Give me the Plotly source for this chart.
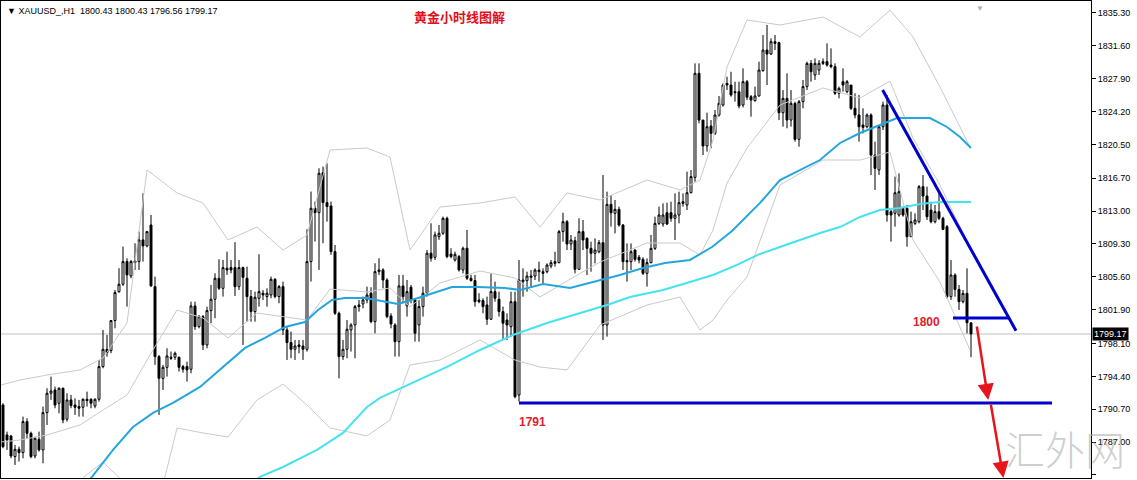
import plotly.graph_objects as go

# ---------------- data ----------------
bar_open = [
    1791.18, 1787.81, 1787.69, 1785.37, 1786.19, 1785.82, 1789.31, 1787.99, 1785.44, 1787.32,
    1786.12, 1790.32, 1792.50, 1792.87, 1791.37, 1793.06, 1789.57, 1791.75, 1791.18, 1791.00,
    1790.92, 1791.82, 1791.82, 1791.07, 1791.82, 1795.50, 1797.45, 1797.30, 1800.68, 1803.94,
    1804.77, 1807.32, 1805.70, 1807.39, 1807.32, 1809.76, 1809.08, 1811.44, 1804.50, 1796.62,
    1794.18, 1795.42, 1796.55, 1796.55, 1796.55, 1795.50, 1795.50, 1795.20, 1802.33, 1800.00,
    1801.13, 1797.94, 1801.80, 1803.08, 1805.44, 1804.31, 1806.57, 1806.64, 1806.64, 1804.50,
    1806.64, 1805.44, 1803.38, 1801.69, 1803.19, 1803.76, 1803.38, 1803.56, 1805.33, 1803.38,
    1804.50, 1799.63, 1798.20, 1797.45, 1797.94, 1797.82, 1797.45, 1807.32, 1813.32, 1812.83,
    1817.33, 1813.96, 1813.58, 1808.44, 1801.50, 1796.62, 1797.45, 1799.63, 1800.19, 1802.25,
    1802.55, 1803.00, 1803.76, 1800.56, 1806.19, 1806.38, 1805.25, 1801.20, 1800.19, 1798.31,
    1804.58, 1802.33, 1804.43, 1803.00, 1800.19, 1802.25, 1803.76, 1808.26, 1807.80, 1810.13,
    1810.51, 1812.19, 1808.18, 1807.50, 1807.88, 1806.38, 1808.82, 1805.44, 1805.18, 1803.00,
    1802.93, 1802.44, 1800.83, 1803.94, 1803.08, 1801.69, 1800.74, 1799.99, 1802.81, 1792.30,
    1805.06, 1805.17, 1805.54, 1805.69, 1806.37, 1806.18, 1806.18, 1806.82, 1807.31, 1807.20,
    1810.69, 1811.81, 1809.30, 1809.67, 1806.45, 1810.69, 1809.93, 1808.81, 1808.25, 1808.43,
    1809.45, 1800.18, 1813.76, 1812.75, 1813.20, 1811.43, 1807.42, 1807.31, 1808.62, 1807.80,
    1807.57, 1806.00, 1807.20, 1808.81, 1811.62, 1811.55, 1812.82, 1812.82, 1812.19, 1812.56,
    1813.87, 1813.69, 1815.07, 1816.80, 1828.51, 1823.25, 1820.33, 1822.58, 1821.75, 1823.82,
    1824.94, 1827.38, 1827.19, 1826.44, 1826.44, 1824.94, 1827.57, 1825.88, 1825.43, 1825.96,
    1828.81, 1831.13, 1830.68, 1832.07, 1831.96, 1824.08, 1825.69, 1823.25, 1825.13, 1821.08,
    1825.32, 1827.01, 1829.63, 1828.32, 1828.88, 1829.82, 1829.82, 1829.44, 1829.26, 1826.26,
    1827.57, 1826.44, 1827.19, 1824.57, 1823.82, 1822.69, 1822.50, 1823.82, 1819.31, 1817.63,
    1822.50, 1824.94, 1812.94, 1812.75, 1812.56, 1813.31, 1813.31, 1810.12, 1811.62, 1811.81,
    1815.75, 1814.70, 1813.12, 1811.81, 1812.94, 1812.19, 1811.25, 1803.37, 1805.81, 1804.19,
    1802.81, 1803.74, 1800.43,
]
bar_high = [
    1791.37, 1788.18, 1787.81, 1786.68, 1786.49, 1789.87, 1789.68, 1788.18, 1787.60, 1788.18,
    1791.00, 1793.06, 1794.37, 1793.25, 1793.17, 1793.13, 1792.50, 1792.31, 1791.93, 1791.75,
    1791.93, 1792.68, 1791.93, 1791.93, 1796.25, 1799.63, 1799.06, 1800.75, 1804.12, 1806.57,
    1809.00, 1807.69, 1807.50, 1809.38, 1810.69, 1815.01, 1810.77, 1812.57, 1805.63, 1796.81,
    1795.69, 1797.56, 1797.19, 1797.19, 1796.62, 1795.69, 1796.06, 1802.81, 1802.81, 1801.31,
    1801.31, 1802.25, 1804.69, 1806.00, 1807.58, 1807.50, 1808.44, 1807.50, 1809.50, 1807.50,
    1806.75, 1806.75, 1804.12, 1803.94, 1808.14, 1804.12, 1804.31, 1805.63, 1805.44, 1804.69,
    1805.07, 1800.00, 1799.44, 1798.50, 1798.50, 1798.50, 1810.96, 1815.20, 1814.07, 1817.82,
    1818.01, 1818.38, 1814.07, 1809.19, 1801.69, 1798.50, 1800.75, 1800.38, 1802.44, 1803.00,
    1803.38, 1804.50, 1804.43, 1807.13, 1807.69, 1806.57, 1805.44, 1801.50, 1800.38, 1805.82,
    1805.82, 1805.25, 1804.69, 1803.19, 1803.00, 1804.50, 1808.63, 1811.63, 1810.69, 1811.44,
    1812.38, 1812.38, 1808.82, 1808.44, 1808.07, 1809.00, 1810.88, 1805.82, 1805.82, 1803.76,
    1803.19, 1803.38, 1806.00, 1805.07, 1803.94, 1802.25, 1801.49, 1803.93, 1803.93, 1807.50,
    1806.56, 1806.18, 1806.37, 1806.56, 1807.31, 1806.56, 1807.12, 1807.50, 1808.43, 1810.87,
    1812.82, 1812.00, 1810.31, 1810.12, 1812.19, 1812.00, 1810.05, 1809.56, 1809.93, 1809.75,
    1817.06, 1815.19, 1814.81, 1814.25, 1813.50, 1811.55, 1809.37, 1809.37, 1808.70, 1808.06,
    1807.80, 1807.68, 1810.31, 1812.37, 1813.50, 1813.87, 1813.95, 1814.06, 1815.00, 1815.19,
    1815.00, 1817.44, 1817.63, 1829.63, 1829.63, 1823.25, 1824.08, 1823.25, 1824.38, 1825.96,
    1827.38, 1828.13, 1828.69, 1827.57, 1827.57, 1829.07, 1827.76, 1826.07, 1827.01, 1829.82,
    1832.82, 1833.95, 1832.45, 1832.82, 1832.07, 1826.63, 1828.51, 1826.63, 1825.32, 1825.51,
    1827.76, 1829.82, 1830.01, 1830.19, 1830.01, 1830.19, 1831.88, 1831.32, 1829.63, 1827.01,
    1829.07, 1827.76, 1827.19, 1826.26, 1826.07, 1824.57, 1824.00, 1824.00, 1820.82, 1822.69,
    1825.32, 1826.07, 1813.12, 1816.88, 1817.25, 1813.50, 1813.69, 1812.94, 1812.75, 1815.94,
    1817.06, 1815.75, 1814.06, 1813.69, 1815.00, 1812.37, 1811.43, 1807.50, 1806.00, 1804.68,
    1804.12, 1806.56, 1800.43,
]
bar_low = [
    1786.31, 1786.12, 1785.18, 1784.43, 1784.81, 1785.18, 1787.43, 1785.18, 1785.18, 1785.93,
    1784.62, 1788.93, 1791.75, 1790.81, 1790.24, 1789.12, 1789.31, 1790.81, 1790.06, 1789.87,
    1789.87, 1791.00, 1790.81, 1790.81, 1791.56, 1795.31, 1796.62, 1797.00, 1799.81, 1803.80,
    1804.58, 1802.25, 1805.44, 1806.38, 1806.38, 1807.32, 1808.93, 1804.50, 1795.69, 1790.06,
    1792.87, 1794.37, 1796.25, 1796.25, 1794.94, 1794.82, 1793.81, 1794.75, 1799.63, 1799.81,
    1797.37, 1797.56, 1800.38, 1800.94, 1804.12, 1803.38, 1805.82, 1806.00, 1803.45, 1804.12,
    1797.94, 1800.56, 1800.56, 1800.56, 1802.25, 1803.00, 1802.25, 1803.19, 1803.19, 1802.63,
    1799.06, 1796.25, 1796.44, 1796.25, 1797.00, 1796.25, 1797.19, 1805.07, 1809.57, 1806.38,
    1809.38, 1811.82, 1808.07, 1801.31, 1794.18, 1796.25, 1796.44, 1797.19, 1796.44, 1801.69,
    1802.06, 1802.63, 1800.38, 1799.25, 1805.82, 1804.31, 1800.94, 1799.81, 1796.62, 1796.62,
    1802.63, 1801.13, 1802.63, 1798.31, 1798.31, 1801.13, 1803.38, 1807.32, 1807.50, 1809.76,
    1810.32, 1807.69, 1807.69, 1807.32, 1806.19, 1806.00, 1805.25, 1805.07, 1802.25, 1802.63,
    1801.50, 1800.19, 1800.75, 1802.81, 1801.13, 1798.50, 1798.49, 1798.87, 1791.93, 1791.55,
    1803.37, 1803.93, 1804.50, 1805.24, 1805.06, 1804.87, 1806.00, 1806.56, 1806.75, 1807.12,
    1809.56, 1808.62, 1808.62, 1806.00, 1806.37, 1808.62, 1805.81, 1806.18, 1807.12, 1808.25,
    1798.49, 1798.87, 1811.25, 1810.50, 1811.25, 1806.37, 1805.06, 1806.37, 1807.31, 1807.12,
    1805.81, 1804.50, 1807.12, 1808.62, 1811.43, 1811.25, 1811.43, 1811.81, 1809.75, 1811.62,
    1813.50, 1813.12, 1815.00, 1816.31, 1822.88, 1819.31, 1819.69, 1820.07, 1821.57, 1823.63,
    1824.76, 1826.63, 1825.88, 1825.32, 1824.57, 1824.68, 1825.51, 1823.63, 1825.32, 1825.88,
    1828.69, 1827.19, 1830.57, 1831.13, 1823.25, 1822.50, 1822.32, 1822.50, 1820.82, 1820.25,
    1824.57, 1826.63, 1827.57, 1827.76, 1828.32, 1829.44, 1829.26, 1829.07, 1826.07, 1825.69,
    1826.44, 1826.26, 1824.38, 1823.44, 1820.82, 1821.75, 1822.32, 1817.06, 1815.38, 1817.06,
    1822.13, 1811.81, 1809.56, 1811.25, 1812.37, 1812.37, 1808.99, 1810.12, 1811.43, 1811.62,
    1813.12, 1812.00, 1811.62, 1811.62, 1812.00, 1810.87, 1803.18, 1803.00, 1803.37, 1801.87,
    1802.62, 1799.24, 1796.56,
]
bar_close = [
    1786.49, 1787.24, 1785.44, 1786.19, 1785.82, 1789.31, 1787.99, 1785.37, 1787.43, 1786.12,
    1790.32, 1792.50, 1792.76, 1791.18, 1793.06, 1789.50, 1791.75, 1791.11, 1790.92, 1790.81,
    1791.82, 1791.67, 1791.37, 1791.82, 1795.50, 1797.45, 1797.07, 1800.68, 1803.83, 1804.77,
    1807.32, 1805.82, 1807.32, 1807.20, 1809.76, 1809.08, 1810.69, 1804.58, 1796.62, 1794.18,
    1795.42, 1796.70, 1796.44, 1797.00, 1795.42, 1795.20, 1795.12, 1802.33, 1800.00, 1801.13,
    1797.94, 1801.80, 1803.08, 1805.44, 1804.31, 1806.64, 1806.38, 1806.38, 1804.50, 1806.64,
    1805.55, 1803.38, 1801.69, 1803.30, 1803.94, 1803.56, 1803.76, 1805.33, 1803.38, 1804.50,
    1799.63, 1798.20, 1797.45, 1797.82, 1797.75, 1797.45, 1807.32, 1813.32, 1812.83, 1817.26,
    1813.96, 1813.51, 1808.44, 1801.50, 1796.62, 1797.45, 1799.70, 1800.19, 1802.25, 1802.44,
    1803.00, 1803.56, 1800.56, 1806.19, 1806.38, 1805.25, 1801.13, 1800.30, 1798.31, 1804.58,
    1803.38, 1803.94, 1803.00, 1799.25, 1802.25, 1803.76, 1808.26, 1807.69, 1810.32, 1810.51,
    1812.19, 1807.88, 1807.88, 1808.14, 1806.38, 1808.82, 1805.44, 1805.18, 1802.81, 1802.81,
    1802.25, 1800.83, 1803.94, 1803.19, 1801.69, 1800.38, 1800.18, 1802.81, 1792.11, 1805.24,
    1805.24, 1805.69, 1805.69, 1806.37, 1806.18, 1806.00, 1806.93, 1807.20, 1807.12, 1810.69,
    1811.81, 1809.30, 1809.75, 1806.45, 1810.69, 1809.75, 1808.81, 1808.25, 1808.62, 1809.45,
    1800.18, 1813.76, 1812.82, 1813.20, 1811.43, 1807.31, 1807.31, 1808.43, 1807.57, 1807.50,
    1806.00, 1807.20, 1808.81, 1811.62, 1812.56, 1812.56, 1811.55, 1812.19, 1812.56, 1813.95,
    1814.06, 1815.07, 1816.88, 1828.51, 1823.25, 1820.33, 1822.50, 1821.75, 1823.82, 1825.13,
    1827.19, 1827.19, 1826.07, 1826.33, 1824.83, 1827.57, 1825.81, 1825.51, 1825.96, 1828.88,
    1831.13, 1830.68, 1832.07, 1831.88, 1824.08, 1825.69, 1823.25, 1825.13, 1821.08, 1825.32,
    1827.01, 1829.63, 1828.69, 1829.63, 1829.63, 1829.63, 1829.44, 1829.26, 1826.26, 1826.82,
    1827.19, 1827.57, 1824.57, 1823.82, 1822.50, 1822.43, 1823.82, 1819.31, 1817.81, 1822.50,
    1824.94, 1812.56, 1812.56, 1815.07, 1815.19, 1812.56, 1810.12, 1811.81, 1812.00, 1815.75,
    1814.70, 1812.37, 1811.81, 1812.94, 1812.19, 1810.95, 1803.37, 1805.81, 1804.19, 1802.81,
    1803.74, 1800.44, 1799.17,
]

# moving averages (bar index, price)
ma_blue_x = [20, 22.25, 27.5, 32.5, 37.5, 42.5, 49.25, 54.25, 60.5, 65.5, 70.5, 75.5, 78.75, 82.25,
             85.5, 90.5, 95.5, 98.75, 103.75, 108.75, 112.25, 118.75, 125.5, 129.25, 135, 141.75,
             149.25, 154.25, 160, 165.5, 171.75, 177.25, 182.25, 189.25, 194.25, 199.25, 204.25,
             209.25, 214.25, 219.25, 223.5, 231.75, 236, 239.25, 242]
ma_blue_y = [1782.00, 1783.08, 1786.12, 1788.70, 1790.28, 1791.41, 1793.21, 1795.12, 1797.60, 1798.72,
             1799.96, 1800.52, 1801.87, 1803.00, 1803.22, 1803.22, 1802.77, 1802.55, 1803.22, 1803.90,
             1804.46, 1804.46, 1804.35, 1804.12, 1804.80, 1804.35, 1805.25, 1805.81, 1806.60, 1807.16,
             1807.50, 1808.96, 1810.76, 1813.92, 1816.50, 1817.63, 1818.75, 1820.67, 1821.79, 1822.69,
             1823.48, 1823.48, 1822.47, 1821.34, 1820.11]
ma_cyan_x = [62, 64.25, 70, 78.5, 85, 91, 94.25, 102.5, 111, 119.25, 127.5, 136, 144.25, 151, 156.75,
             165, 171.75, 177.5, 183.5, 189.25, 194.25, 199.25, 204.25, 209.25, 214.25, 219.25,
             224.25, 229.25, 234.25, 242]
ma_cyan_y = [1782.30, 1783.08, 1784.20, 1786.12, 1788.03, 1790.95, 1791.97, 1793.66, 1795.46, 1797.37,
             1799.06, 1800.41, 1801.54, 1802.44, 1803.34, 1804.12, 1805.02, 1805.81, 1806.94, 1808.18,
             1808.96, 1809.75, 1810.54, 1811.21, 1812.34, 1813.13, 1813.35, 1813.80, 1814.03, 1814.03]

# Bollinger bands (bar index, price)
bb_x = [-0.5, 4.25, 11, 19.25, 25, 31, 36, 43.5, 50, 56.25, 63.5, 70, 76, 81.75, 91, 96.75, 101.75,
        109.25, 119.25, 128, 134.25, 141, 149.25, 161, 169.25, 174.25, 177.5, 181, 186, 194.25, 205,
        214.25, 221.75, 227.5, 234.25, 239.25, 241.75]
bb_upper = [1793.43, 1793.99, 1794.55, 1795.12, 1796.47, 1800.41, 1817.63, 1815.04, 1813.91, 1809.75,
            1811.21, 1808.62, 1810.31, 1819.88, 1820.10, 1819.09, 1808.62, 1813.46, 1813.91, 1814.59,
            1811.21, 1815.04, 1814.25, 1816.50, 1815.38, 1816.50, 1821.00, 1829.22, 1834.51, 1833.95,
            1834.85, 1832.60, 1835.63, 1832.60, 1826.97, 1822.47, 1820.22]
bb_middle = [1787.01, 1787.24, 1787.80, 1788.93, 1790.61, 1792.30, 1796.24, 1801.87, 1800.97, 1798.72,
             1801.53, 1801.08, 1800.74, 1804.23, 1803.90, 1804.35, 1802.21, 1804.91, 1806.26, 1805.47,
             1803.33, 1805.13, 1807.27, 1809.41, 1809.41, 1808.06, 1810.87, 1816.16, 1820.10, 1824.94,
             1826.86, 1825.73, 1827.64, 1821.23, 1815.94, 1811.21, 1808.85]
bb_lower = [1780.48, 1780.48, 1781.05, 1782.74, 1784.76, 1782.17, 1774.86, 1788.59, 1788.03, 1787.58,
            1791.74, 1793.54, 1791.18, 1788.59, 1787.69, 1789.49, 1795.68, 1796.24, 1798.49, 1796.24,
            1795.45, 1795.12, 1800.18, 1802.43, 1803.33, 1799.62, 1800.74, 1802.99, 1805.58, 1815.94,
            1818.75, 1818.75, 1819.65, 1809.75, 1805.02, 1799.96, 1797.37]

# axis tick labels
price_ticks = ["1835.30", "1831.60", "1827.90", "1824.20", "1820.50", "1816.70", "1813.00",
               "1809.30", "1805.60", "1801.90", "1798.10", "1794.40", "1790.70", "1787.00", "1783.30"]

# drawn analysis objects
support_level = 1791.4          # "1791"
support_start, support_end = 129, 262.25
level_1800 = 1800.97            # "1800"
level_1800_start, level_1800_end = 237.5, 251.25
trend_x = [219.9, 253.25]
trend_y = [1826.63, 1799.54]
arrow1 = [(243.4, 1800.18), (246.3, 1791.74)]
arrow2 = [(246.9, 1791.40), (250.1, 1782.96)]
last_price = 1799.17
header = "XAUUSD_,H1\u00a0\u00a01800.43 1800.43 1796.56 1799.17"

# ---------------- figure ----------------
bars = list(range(len(bar_open)))
fig = go.Figure()

band_col = "#cacaca"
for ys in (bb_upper, bb_middle, bb_lower):
    fig.add_trace(go.Scatter(x=bb_x, y=ys, mode="lines", line=dict(color=band_col, width=1),
                             hoverinfo="skip", showlegend=False))

fig.add_trace(go.Scatter(x=ma_cyan_x, y=ma_cyan_y, mode="lines", line=dict(color="#45e3f0", width=2),
                         hoverinfo="skip", showlegend=False))
fig.add_trace(go.Scatter(x=ma_blue_x, y=ma_blue_y, mode="lines", line=dict(color="#25a5de", width=2),
                         hoverinfo="skip", showlegend=False))

fig.add_trace(go.Candlestick(
    x=bars, open=bar_open, high=bar_high, low=bar_low, close=bar_close,
    increasing=dict(line=dict(color="black", width=1), fillcolor="white"),
    decreasing=dict(line=dict(color="black", width=1), fillcolor="black"),
    whiskerwidth=0, hoverinfo="skip", showlegend=False,
))

shapes = [
    dict(type="line", xref="paper", x0=0, x1=1, yref="y", y0=last_price, y1=last_price,
         line=dict(color="#c0c0c0", width=1), layer="below"),
    dict(type="line", xref="x", yref="y", x0=support_start, x1=support_end,
         y0=support_level, y1=support_level, line=dict(color="#0000cc", width=3)),
    dict(type="line", xref="x", yref="y", x0=level_1800_start, x1=level_1800_end,
         y0=level_1800, y1=level_1800, line=dict(color="#0000cc", width=3)),
    dict(type="line", xref="x", yref="y", x0=trend_x[0], x1=trend_x[1],
         y0=trend_y[0], y1=trend_y[1], line=dict(color="#0000cc", width=3)),
]

annotations = [
    dict(xref="paper", yref="paper", x=0, y=1, xanchor="left", yanchor="top", xshift=4, yshift=-3,
         text="\u25bc " + header, showarrow=False,
         font=dict(family="Liberation Sans, Arial", size=9, color="black")),
    dict(xref="paper", yref="paper", x=0.4211, y=0.9665, xanchor="center", yanchor="middle",
         text="<b>黄金小时线图解</b>", showarrow=False,
         font=dict(family="Noto Sans CJK SC", size=13, color="#e3101c")),
    dict(xref="x", yref="y", x=132.25, y=1789.26, text="<b>1791</b>", showarrow=False,
         font=dict(family="Liberation Sans, Arial", size=12, color="#e0202c")),
    dict(xref="x", yref="y", x=230.75, y=1800.52, text="<b>1800</b>", showarrow=False,
         font=dict(family="Liberation Sans, Arial", size=12, color="#e0202c")),
    dict(xref="paper", yref="y", x=1, y=last_price, xanchor="left", yanchor="middle", xshift=1,
         text="1799.17", showarrow=False, bgcolor="black", borderpad=1,
         font=dict(family="Liberation Sans, Arial", size=9, color="white")),
    dict(xref="paper", yref="paper", x=0.976, y=0.062, xanchor="center", yanchor="middle",
         text="汇外网", showarrow=False,
         font=dict(family="Noto Sans CJK SC", size=40, color="rgba(165,165,165,0.55)", weight=300)),
    dict(xref="x", yref="paper", x=244.25, y=1, yanchor="top", yshift=1, text="\u25bc",
         showarrow=False, font=dict(size=8, color="#b0b0b0")),
]
for (x0, y0), (x1, y1) in (arrow1, arrow2):
    annotations.append(dict(xref="x", yref="y", axref="x", ayref="y", x=x1, y=y1, ax=x0, ay=y0,
                            text="", showarrow=True, arrowhead=2, arrowsize=1.3, arrowwidth=2.5,
                            arrowcolor="#e8141c", standoff=0, startstandoff=0))

fig.update_layout(
    width=1137, height=480,
    margin=dict(l=1, r=46, t=1, b=2),
    paper_bgcolor="white", plot_bgcolor="white",
    showlegend=False, hovermode=False,
    shapes=shapes, annotations=annotations,
    xaxis=dict(range=[-0.5, 272], showgrid=False, zeroline=False, showticklabels=False,
               ticks="", showline=True, mirror=True, linecolor="black", linewidth=1,
               rangeslider=dict(visible=False), fixedrange=True),
    yaxis=dict(range=[1782.96, 1836.65], side="right", showgrid=False, zeroline=False,
               tickmode="array", tickvals=[float(t) for t in price_ticks], ticktext=price_ticks,
               ticks="outside", ticklen=4, tickcolor="black", tickwidth=1,
               showline=True, mirror=True, linecolor="black", linewidth=1,
               tickfont=dict(family="Liberation Sans, Arial", size=9, color="black"),
               fixedrange=True),
)

fig.write_html("out.html", config={"displayModeBar": False},
               post_script="document.body.style.margin='0';document.body.style.overflow='hidden';")
